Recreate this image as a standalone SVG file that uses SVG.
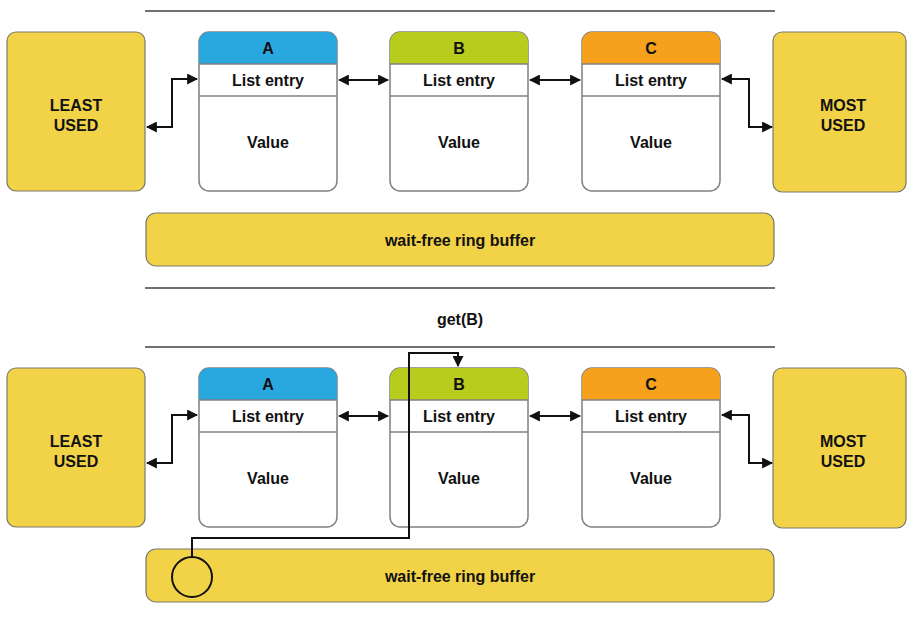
<svg xmlns="http://www.w3.org/2000/svg" width="907" height="621" viewBox="0 0 907 621">
<defs>
<style>
text{font-family:"Liberation Sans",Arial,sans-serif;font-weight:bold;fill:#111;text-anchor:middle;dominant-baseline:central}
.t{font-size:16px}
.end{fill:#F2D348;stroke:#7a7a6a;stroke-width:1.2}
.body{fill:#fff;stroke:#808080;stroke-width:1.5}
.sep{stroke:#808080;stroke-width:1.3}
.rule{stroke:#707070;stroke-width:2}
.c{fill:none;stroke:#111;stroke-width:2}
</style>
<marker id="ah" viewBox="0 0 10 10" refX="9" refY="5" markerWidth="5.5" markerHeight="5.5" orient="auto-start-reverse"><path d="M0,0 L10,5 L0,10 z" fill="#111"/></marker>
</defs>
<rect width="907" height="621" fill="#fff"/>

<!-- ===== TOP ===== -->
<line class="rule" x1="145" y1="11" x2="775" y2="11"/>
<g id="least1"><rect class="end" x="7" y="32" width="138" height="159" rx="9"/><text class="t" x="76" y="105">LEAST</text><text class="t" x="76" y="125">USED</text></g>
<g id="most1"><rect class="end" x="773" y="32" width="133" height="160" rx="9"/><text class="t" x="843" y="105">MOST</text><text class="t" x="843" y="125">USED</text></g>
<g id="A1"><rect class="body" x="199" y="32" width="138" height="159" rx="10"/><path d="M199,64 V42 a10,10 0 0 1 10,-10 H327 a10,10 0 0 1 10,10 V64 z" fill="#29A8E0"/><line class="sep" x1="199" y1="64" x2="337" y2="64"/><line class="sep" x1="199" y1="96" x2="337" y2="96"/><text class="t" x="268" y="48">A</text><text class="t" x="268" y="80">List entry</text><text class="t" x="268" y="142">Value</text></g>
<g id="B1"><rect class="body" x="390" y="32" width="138" height="159" rx="10"/><path d="M390,64 V42 a10,10 0 0 1 10,-10 H518 a10,10 0 0 1 10,10 V64 z" fill="#B7CC1C"/><line class="sep" x1="390" y1="64" x2="528" y2="64"/><line class="sep" x1="390" y1="96" x2="528" y2="96"/><text class="t" x="459" y="48">B</text><text class="t" x="459" y="80">List entry</text><text class="t" x="459" y="142">Value</text></g>
<g id="C1"><rect class="body" x="582" y="32" width="138" height="159" rx="10"/><path d="M582,64 V42 a10,10 0 0 1 10,-10 H710 a10,10 0 0 1 10,10 V64 z" fill="#F6A11C"/><line class="sep" x1="582" y1="64" x2="720" y2="64"/><line class="sep" x1="582" y1="96" x2="720" y2="96"/><text class="t" x="651" y="48">C</text><text class="t" x="651" y="80">List entry</text><text class="t" x="651" y="142">Value</text></g>
<g id="ring1"><rect class="end" x="146" y="213" width="628" height="53" rx="10"/><text class="t" x="460" y="240">wait-free ring buffer</text></g>

<line class="rule" x1="145" y1="288" x2="775" y2="288"/>
<text class="t" x="460" y="319">get(B)</text>
<line class="rule" x1="145" y1="347" x2="775" y2="347"/>

<!-- ===== BOTTOM ===== -->
<g id="least2"><rect class="end" x="7" y="368" width="138" height="159" rx="9"/><text class="t" x="76" y="441">LEAST</text><text class="t" x="76" y="461">USED</text></g>
<g id="most2"><rect class="end" x="773" y="368" width="133" height="160" rx="9"/><text class="t" x="843" y="441">MOST</text><text class="t" x="843" y="461">USED</text></g>
<g id="A2"><rect class="body" x="199" y="368" width="138" height="159" rx="10"/><path d="M199,400 V378 a10,10 0 0 1 10,-10 H327 a10,10 0 0 1 10,10 V400 z" fill="#29A8E0"/><line class="sep" x1="199" y1="400" x2="337" y2="400"/><line class="sep" x1="199" y1="432" x2="337" y2="432"/><text class="t" x="268" y="384">A</text><text class="t" x="268" y="416">List entry</text><text class="t" x="268" y="478">Value</text></g>
<g id="B2"><rect class="body" x="390" y="368" width="138" height="159" rx="10"/><path d="M390,400 V378 a10,10 0 0 1 10,-10 H518 a10,10 0 0 1 10,10 V400 z" fill="#B7CC1C"/><line class="sep" x1="390" y1="400" x2="528" y2="400"/><line class="sep" x1="390" y1="432" x2="528" y2="432"/><text class="t" x="459" y="384">B</text><text class="t" x="459" y="416">List entry</text><text class="t" x="459" y="478">Value</text></g>
<g id="C2"><rect class="body" x="582" y="368" width="138" height="159" rx="10"/><path d="M582,400 V378 a10,10 0 0 1 10,-10 H710 a10,10 0 0 1 10,10 V400 z" fill="#F6A11C"/><line class="sep" x1="582" y1="400" x2="720" y2="400"/><line class="sep" x1="582" y1="432" x2="720" y2="432"/><text class="t" x="651" y="384">C</text><text class="t" x="651" y="416">List entry</text><text class="t" x="651" y="478">Value</text></g>
<g id="ring2"><rect class="end" x="146" y="549" width="628" height="53" rx="10"/><text class="t" x="460" y="576">wait-free ring buffer</text><circle cx="192" cy="577" r="20" fill="none" stroke="#111" stroke-width="2"/></g>

<!-- ===== CONNECTORS ===== -->
<g id="connectors">
<path class="c" d="M147,127 H172 V79 H197" marker-start="url(#ah)" marker-end="url(#ah)"/>
<path class="c" d="M339,80 H388" marker-start="url(#ah)" marker-end="url(#ah)"/>
<path class="c" d="M530,80 H580" marker-start="url(#ah)" marker-end="url(#ah)"/>
<path class="c" d="M722,79 H749 V127 H772" marker-start="url(#ah)" marker-end="url(#ah)"/>

<path class="c" d="M147,463 H172 V415 H197" marker-start="url(#ah)" marker-end="url(#ah)"/>
<path class="c" d="M339,416 H388" marker-start="url(#ah)" marker-end="url(#ah)"/>
<path class="c" d="M530,416 H580" marker-start="url(#ah)" marker-end="url(#ah)"/>
<path class="c" d="M722,415 H749 V463 H772" marker-start="url(#ah)" marker-end="url(#ah)"/>

<path class="c" d="M192,557 V538 H409 V353 H458 V366" marker-end="url(#ah)"/>
</g>
</svg>
